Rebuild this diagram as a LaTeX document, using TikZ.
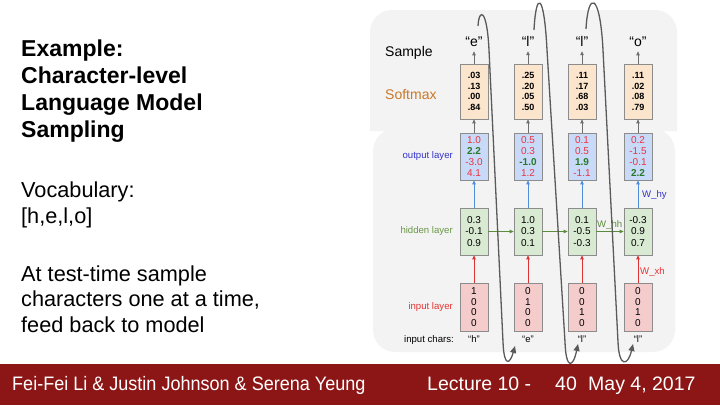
\documentclass[tikz,border=0pt]{standalone}
\usepackage{fontspec}
\setmainfont{Liberation Sans}
\usetikzlibrary{arrows.meta}
\definecolor{panel}{HTML}{F3F3F3}
\definecolor{footer}{RGB}{140,22,22}
\definecolor{smfill}{RGB}{252,229,205}
\definecolor{outfill}{RGB}{201,218,248}
\definecolor{hidfill}{RGB}{217,234,211}
\definecolor{infill}{RGB}{244,204,204}
\definecolor{boxborder}{RGB}{140,140,140}
\definecolor{smtext}{RGB}{200,120,40}
\definecolor{outtext}{RGB}{51,51,204}
\definecolor{hidtext}{RGB}{106,150,70}
\definecolor{intext}{RGB}{230,50,50}
\definecolor{numred}{RGB}{232,52,64}
\definecolor{numgreen}{RGB}{40,120,40}
\definecolor{arrgray}{RGB}{110,110,110}
\definecolor{arrblue}{RGB}{80,140,220}
\definecolor{arrred}{RGB}{220,50,50}
\definecolor{arrgreen}{RGB}{90,140,60}
\definecolor{feedcol}{RGB}{90,90,90}
\newcommand\nred[1]{\textcolor{numred}{#1}}
\newcommand\ngrn[1]{\textcolor{numgreen}{\bfseries #1}}
\begin{document}
\begin{tikzpicture}[x=1pt,y=-1pt,
  box/.style={draw=boxborder, line width=0.7pt, minimum width=28pt, minimum height=47pt, inner sep=0pt, align=center},
  smbox/.style={box, fill=smfill, minimum height=55pt, font=\fontsize{9}{10.7}\selectfont\bfseries},
  outbox/.style={box, fill=outfill, font=\fontsize{10}{11.3}\selectfont},
  hidbox/.style={box, fill=hidfill, font=\fontsize{10}{11.5}\selectfont},
  inbox/.style={box, fill=infill, minimum height=48pt, font=\fontsize{10}{10.7}\selectfont},
  bigbold/.style={anchor=base west, inner sep=0pt, font=\fontsize{23}{27}\selectfont\bfseries},
  bigreg/.style={anchor=base west, inner sep=0pt, font=\fontsize{21.7}{26}\selectfont},
  foot/.style={anchor=base west, inner sep=0pt, text=white, font=\fontsize{19.5}{22}\selectfont},
  samp/.style={anchor=base, inner sep=0pt, font=\fontsize{14}{16}\selectfont},
  rowlab/.style={anchor=base east, inner sep=0pt, font=\fontsize{9.6}{11}\selectfont},
  inch/.style={anchor=base, inner sep=0pt, font=\fontsize{9.5}{11}\selectfont},
  wlab/.style={anchor=base west, inner sep=0pt, font=\fontsize{9.6}{11}\selectfont},
  garr/.style={draw=arrgray, line width=0.8pt, -{Triangle[length=4pt,width=3.5pt]}},
  barr/.style={draw=arrblue, line width=0.8pt, -{Triangle[length=4pt,width=3.5pt]}},
  rarr/.style={draw=arrred, line width=0.8pt, -{Triangle[length=4pt,width=3.5pt]}},
  grarr/.style={draw=arrgreen, line width=0.8pt, -{Triangle[length=4pt,width=3.5pt]}},
  feed/.style={draw=feedcol, line width=1.3pt, -{Triangle[length=7pt,width=6pt]}}
]
\useasboundingbox (0,0) rectangle (720,405);
\fill[white] (0,0) rectangle (720,405);
% panels
\fill[panel] (370,131) -- (370,32) arc[start angle=180, end angle=270, radius=22]
  -- (655,10) arc[start angle=270, end angle=360, radius=22] -- (677,131) -- cycle;
\fill[panel, rounded corners=22pt] (373,129) rectangle (675,352);
% footer
\fill[footer] (0,364) rectangle (720,405);
\node[foot] (ft1) at (12,390) {\scalebox{0.925}[1]{Fei-Fei Li \& Justin Johnson \& Serena Yeung}};
\node[foot] (ft2) at (427,390) {Lecture 10 -};
\node[foot] (ft3) at (555,390) {40};
\node[foot] (ft4) at (588,390) {May 4, 2017};
% left text
\node[bigbold] (t1) at (21,56) {Example:};
\node[bigbold] (t2) at (21,83) {Character-level};
\node[bigbold] (t3) at (21,110) {Language Model};
\node[bigbold] (t4) at (21,137) {Sampling};
\node[bigreg] (t5) at (21,197.5) {Vocabulary:};
\node[bigreg] (t6) at (21,223.5) {[h,e,l,o]};
\node[bigreg] (t7) at (21,281) {At test-time sample};
\node[bigreg] (t8) at (21,306.5) {characters one at a time,};
\node[bigreg] (t9) at (21,332) {feed back to model};
% row labels
\node[anchor=base west, inner sep=0pt, font=\fontsize{14}{16}\selectfont] (lsample) at (385,56) {Sample};
\node[anchor=base west, inner sep=0pt, text=smtext, font=\fontsize{14}{16}\selectfont] (lsoft) at (385,99) {Softmax};
\node[rowlab, text=outtext] (lout) at (453,158) {output layer};
\node[rowlab, text=hidtext] (lhid) at (453,233) {hidden layer};
\node[rowlab, text=intext] (lin) at (453,309) {input layer};
\node[rowlab] (lch) at (454,342) {input chars:};
% feedback curve points
\coordinate (f1s) at (478,26); \coordinate (f1t) at (489,50); \coordinate (f1b) at (503,342); \coordinate (f1e) at (515,346);
\coordinate (f2s) at (534,30); \coordinate (f2t) at (547,50); \coordinate (f2b) at (565,342); \coordinate (f2e) at (578,344);
\coordinate (f3s) at (586,29); \coordinate (f3t) at (603,50); \coordinate (f3b) at (618,342); \coordinate (f3e) at (633,344);
% softmax boxes
\node[smbox] (s1) at (474,91.5) {.03\\.13\\.00\\.84};
\node[smbox] (s2) at (528,91.5) {.25\\.20\\.05\\.50};
\node[smbox] (s3) at (582,91.5) {.11\\.17\\.68\\.03};
\node[smbox] (s4) at (638,91.5) {.11\\.02\\.08\\.79};
% output boxes
\node[outbox] (o1) at (474,156.5) {\nred{1.0}\\\ngrn{2.2}\\\nred{-3.0}\\\nred{4.1}};
\node[outbox] (o2) at (528,156.5) {\nred{0.5}\\\nred{0.3}\\\ngrn{-1.0}\\\nred{1.2}};
\node[outbox] (o3) at (582,156.5) {\nred{0.1}\\\nred{0.5}\\\ngrn{1.9}\\\nred{-1.1}};
\node[outbox] (o4) at (638,156.5) {\nred{0.2}\\\nred{-1.5}\\\nred{-0.1}\\\ngrn{2.2}};
% hidden boxes
\node[hidbox] (h1) at (474,231.5) {0.3\\-0.1\\0.9};
\node[hidbox] (h2) at (528,231.5) {1.0\\0.3\\0.1};
\node[hidbox] (h3) at (582,231.5) {0.1\\-0.5\\-0.3};
\node[hidbox] (h4) at (638,231.5) {-0.3\\0.9\\0.7};
% input boxes
\node[inbox] (i1) at (474,307) {1\\0\\0\\0};
\node[inbox] (i2) at (528,307) {0\\1\\0\\0};
\node[inbox] (i3) at (582,307) {0\\0\\1\\0};
\node[inbox] (i4) at (638,307) {0\\0\\1\\0};
% sample labels
\node[samp] (q1) at (474,46) {“e”};
\node[samp] (q2) at (528,46) {“l”};
\node[samp] (q3) at (582,46) {“l”};
\node[samp] (q4) at (638,46) {“o”};
% input chars
\node[inch] (c1) at (474,342) {“h”};
\node[inch] (c2) at (528,342) {“e”};
\node[inch] (c3) at (582,342) {“l”};
\node[inch] (c4) at (638,342) {“l”};
% arrows
\foreach \k in {1,2,3,4}{
  \draw[garr, shorten >=5pt] (s\k.north) -- (q\k.south);
  \draw[garr] (o\k.north) -- (s\k.south);
  \draw[barr] (h\k.north) -- (o\k.south);
  \draw[rarr] (i\k.north) -- (h\k.south);
}
\draw[grarr] (h1.east) -- (h2.west);
\draw[grarr] (h2.east) -- (h3.west);
\draw[grarr] (h3.east) -- (h4.west);
% weight labels
\node[wlab, text=arrgreen] (whh) at (597,227) {W\_hh};
\node[wlab, text=outtext] (why) at (642,197) {W\_hy};
\node[wlab, text=intext] (wxh) at (640,274) {W\_xh};
% feedback curves
\draw[feed] (f1s) .. controls (479,8) and (487,8) .. (f1t) -- (f1b) .. controls (504,368) and (510,364) .. (f1e);
\draw[feed] (f2s) .. controls (536,-9) and (544,-9) .. (f2t) -- (f2b) .. controls (566,370) and (573,368) .. (f2e);
\draw[feed] (f3s) .. controls (588,-9) and (600,-9) .. (f3t) -- (f3b) .. controls (619,368) and (628,366) .. (f3e);
\end{tikzpicture}
\end{document}
